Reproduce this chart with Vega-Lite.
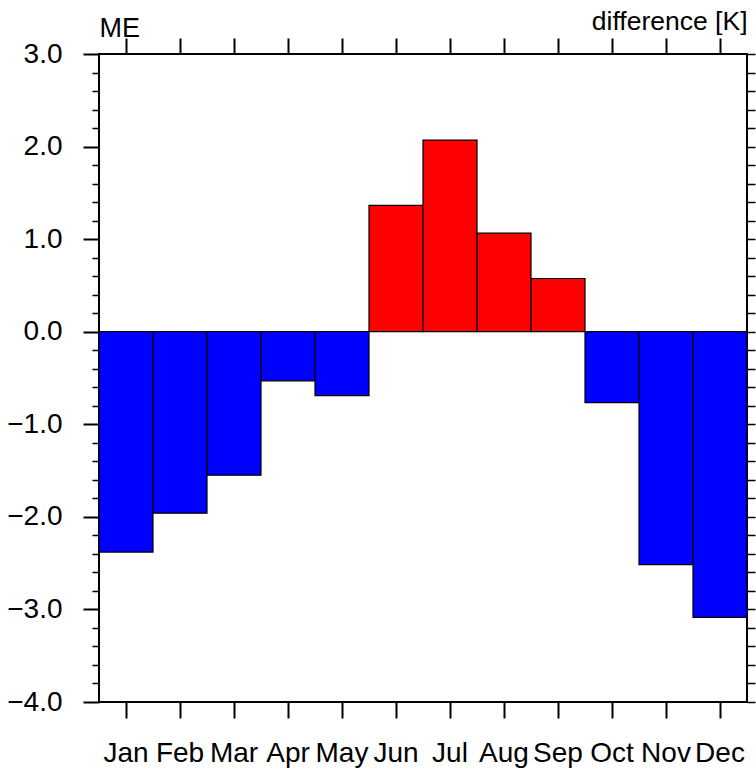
{
  "$schema": "https://vega.github.io/schema/vega-lite/v6.json",
  "width": 648,
  "height": 648,
  "autosize": "none",
  "padding": {"left": 99, "top": 54, "right": 9, "bottom": 69},
  "background": "white",
  "data": {
    "values": [
      {"month": "Jan", "value": -2.38},
      {"month": "Feb", "value": -1.96},
      {"month": "Mar", "value": -1.55},
      {"month": "Apr", "value": -0.53},
      {"month": "May", "value": -0.69},
      {"month": "Jun", "value": 1.365},
      {"month": "Jul", "value": 2.07},
      {"month": "Aug", "value": 1.065},
      {"month": "Sep", "value": 0.575},
      {"month": "Oct", "value": -0.765},
      {"month": "Nov", "value": -2.515},
      {"month": "Dec", "value": -3.085}
    ]
  },
  "config": {
    "view": {"stroke": "black", "strokeWidth": 2},
    "font": "Liberation Sans",
    "axis": {
      "domain": false,
      "grid": false,
      "tickColor": "black",
      "labelColor": "black",
      "titleColor": "black",
      "labelFont": "Liberation Sans",
      "titleFont": "Liberation Sans",
      "labelFontWeight": "normal",
      "titleFontWeight": "normal"
    }
  },
  "resolve": {"axis": {"x": "independent", "y": "independent"}},
  "layer": [
    {
      "mark": {"type": "bar", "stroke": "black", "strokeWidth": 1.2},
      "encoding": {
        "x": {
          "field": "month", "type": "ordinal", "sort": null,
          "scale": {"paddingInner": 0, "paddingOuter": 0},
          "axis": {"orient": "bottom", "title": null, "labelAngle": 0, "labelFontSize": 28, "labelPadding": 21, "labelBaseline": "top", "tickSize": 16, "tickWidth": 2}
        },
        "y": {
          "field": "value", "type": "quantitative",
          "scale": {"domain": [-4, 3], "nice": false, "zero": false},
          "axis": {"orient": "left", "title": null, "values": [-4, -3, -2, -1, 0, 1, 2, 3], "format": ".1f", "labelFontSize": 28, "labelPadding": 21, "tickSize": 16, "tickWidth": 2}
        },
        "fill": {"condition": {"test": "datum.value > 0", "value": "#ff0000"}, "value": "#0000ff"}
      }
    },
    {
      "mark": {"type": "bar", "opacity": 0},
      "encoding": {
        "x": {
          "field": "month", "type": "ordinal", "sort": null,
          "scale": {"paddingInner": 0, "paddingOuter": 0},
          "axis": {"orient": "top", "title": "ME", "labels": false, "tickSize": 16, "tickWidth": 2, "titleX": 0, "titleY": -18, "titleAlign": "left", "titleBaseline": "alphabetic", "titleFontSize": 27}
        },
        "y": {
          "field": "value", "type": "quantitative",
          "scale": {"domain": [-4, 3], "nice": false, "zero": false},
          "axis": {"orient": "left", "title": null, "labels": false, "tickSize": 7, "tickWidth": 1.5, "values": [-3.8, -3.6, -3.4, -3.2, -2.8, -2.6, -2.4, -2.2, -1.8, -1.6, -1.4, -1.2, -0.8, -0.6, -0.4, -0.2, 0.2, 0.4, 0.6, 0.8, 1.2, 1.4, 1.6, 1.8, 2.2, 2.4, 2.6, 2.8]}
        }
      }
    },
    {
      "mark": {"type": "bar", "opacity": 0},
      "encoding": {
        "x": {
          "field": "month", "type": "ordinal", "sort": null,
          "scale": {"paddingInner": 0, "paddingOuter": 0},
          "axis": null
        },
        "y": {
          "field": "value", "type": "quantitative",
          "scale": {"domain": [-4, 3], "nice": false, "zero": false},
          "axis": {"orient": "right", "title": "difference [K]", "labels": false, "tickSize": 8, "tickWidth": 1.5, "titleAngle": 0, "titleX": 0, "titleY": -25, "titleAlign": "right", "titleBaseline": "alphabetic", "titleFontSize": 26.5, "values": [-4, -3.8, -3.6, -3.4, -3.2, -3, -2.8, -2.6, -2.4, -2.2, -2, -1.8, -1.6, -1.4, -1.2, -1, -0.8, -0.6, -0.4, -0.2, 0, 0.2, 0.4, 0.6, 0.8, 1, 1.2, 1.4, 1.6, 1.8, 2, 2.2, 2.4, 2.6, 2.8, 3]}
        }
      }
    }
  ]
}
